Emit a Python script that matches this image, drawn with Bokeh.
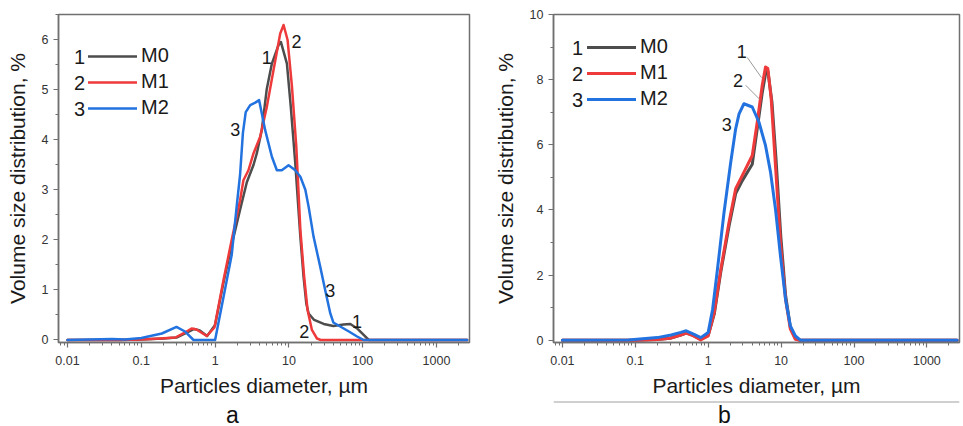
from bokeh.plotting import figure
from bokeh.models import (Range1d, FixedTicker, SingleIntervalTicker, Legend, LegendItem,
                          Label, Arrow, Span)
from bokeh.layouts import row, column
from bokeh.embed import file_html
from bokeh.resources import INLINE

# ---------------- data ----------------
series_names = ["M0", "M1", "M2"]
series_numbers = ["1", "2", "3"]

# Panel a
a_m0_x = [0.01, 0.05, 0.1, 0.2, 0.3, 0.42, 0.52, 0.62, 0.78, 1.0, 1.3, 1.68, 2.18, 2.69, 3.32,
          3.68, 4.3, 5.0, 5.88, 7.24, 7.8, 9.4, 10.6, 12.2, 14.3, 15.8, 17.2, 18.5, 22.0, 29.6,
          40.0, 55.0, 68.0, 84.0, 103.0, 121.0, 2600.0]
a_m0_y = [0.0, 0.0, 0.01, 0.03, 0.05, 0.15, 0.22, 0.19, 0.08, 0.3, 1.15, 1.9, 2.6, 3.15, 3.5,
          3.73, 4.2, 5.0, 5.52, 5.89, 5.95, 5.52, 4.66, 3.53, 2.06, 1.26, 0.73, 0.53, 0.40, 0.32,
          0.28, 0.31, 0.32, 0.23, 0.1, 0.0, 0.0]

a_m1_x = [0.01, 0.05, 0.1, 0.18, 0.29, 0.37, 0.48, 0.56, 0.77, 0.98, 1.3, 1.68, 2.18, 2.42,
          2.83, 3.32, 4.08, 5.03, 6.19, 7.63, 8.47, 9.6, 11.0, 12.6, 14.3, 16.1, 17.9, 20.5,
          24.0, 27.0, 2600.0]
a_m1_y = [0.0, 0.0, 0.01, 0.03, 0.05, 0.13, 0.23, 0.21, 0.08, 0.25, 1.2, 2.0, 2.79, 3.19,
          3.39, 3.73, 4.06, 4.66, 5.39, 6.12, 6.29, 5.99, 5.06, 3.86, 2.2, 1.26, 0.6, 0.2,
          0.03, 0.0, 0.0]

a_m2_x = [0.01, 0.02, 0.04, 0.06, 0.1, 0.19, 0.3, 0.39, 0.51, 1.0, 1.3, 1.68, 1.97, 2.18,
          2.38, 2.6, 2.99, 3.5, 3.95, 4.77, 5.88, 6.87, 8.0, 9.9, 12.2, 14.3, 16.7, 18.5,
          21.6, 26.6, 31.0, 36.4, 40.0, 49.6, 65.0, 84.0, 103.0, 2600.0]
a_m2_y = [0.0, 0.01, 0.02, 0.01, 0.04, 0.13, 0.26, 0.17, 0.0, 0.0, 0.86, 1.7, 2.7, 3.3,
          4.13, 4.55, 4.69, 4.74, 4.79, 4.19, 3.66, 3.39, 3.39, 3.49, 3.39, 3.26, 3.0, 2.66,
          2.06, 1.46, 1.0, 0.53, 0.35, 0.27, 0.17, 0.07, 0.0, 0.0]

# Panel b
b_m0_x = [0.01, 0.1, 0.2, 0.3, 0.42, 0.5, 0.62, 0.79, 1.0, 1.21, 1.49, 1.93, 2.38, 2.94,
          4.02, 4.71, 5.51, 6.2, 6.6, 7.5, 8.5, 9.9, 11.5, 13.4, 15.7, 18.0, 2600.0]
b_m0_y = [0.0, 0.0, 0.02, 0.06, 0.16, 0.22, 0.15, 0.03, 0.15, 0.8, 2.1, 3.5, 4.5, 4.9,
          5.4, 6.5, 7.6, 8.25, 8.25, 7.3, 5.6, 3.2, 1.4, 0.4, 0.05, 0.0, 0.0]

b_m1_x = [0.01, 0.1, 0.2, 0.3, 0.42, 0.5, 0.62, 0.79, 1.0, 1.21, 1.49, 1.93, 2.38, 2.94,
          4.02, 4.71, 5.51, 6.11, 6.58, 7.31, 8.37, 9.8, 11.5, 13.4, 15.7, 18.0, 2600.0]
b_m1_y = [0.0, 0.0, 0.02, 0.06, 0.16, 0.22, 0.14, 0.01, 0.13, 0.85, 2.18, 3.62, 4.65, 5.06,
          5.67, 6.70, 7.83, 8.39, 8.34, 7.42, 5.36, 3.0, 1.26, 0.34, 0.03, 0.0, 0.0]

b_m2_x = [0.01, 0.08, 0.2, 0.31, 0.42, 0.5, 0.64, 0.79, 1.0, 1.15, 1.34, 1.65, 2.04, 2.38,
          2.65, 3.09, 4.02, 4.96, 6.11, 7.16, 8.37, 9.8, 11.5, 13.4, 15.7, 18.4, 2600.0]
b_m2_y = [0.0, 0.01, 0.08, 0.16, 0.24, 0.29, 0.18, 0.08, 0.24, 0.95, 2.18, 3.93, 5.47, 6.49,
          6.95, 7.26, 7.16, 6.70, 5.98, 5.16, 4.03, 2.59, 1.26, 0.44, 0.13, 0.0, 0.0]

x_ticks = [0.01, 0.1, 1, 10, 100, 1000]
x_tick_labels = ["0.01", "0.1", "1", "10", "100", "1000"]

x_title = "Particles diameter, µm"
y_title = "Volume size distribution, %"
panel_letters = ["a", "b"]

# ---------------- styling ----------------
colors = ["#4d4d4d", "#ee3a3a", "#2272e0"]
FONT = "Liberation Sans"
FRAME = "#707070"
TXT = "#1a1a1a"
FIG_H = 400
CAP_H = 26

minor_x = [m * 10.0 ** e for e in range(-3, 4) for m in range(2, 10)]


def make_panel(width, border_left, border_right, y_start, y_end, y_interval, xs, ys, lw,
               leg_x, leg_y, num_x, num_rows):
    p = figure(width=width, height=FIG_H, x_axis_type="log", output_backend="svg",
               toolbar_location=None, min_border_left=border_left, min_border_right=border_right,
               min_border_top=14, min_border_bottom=FIG_H - 342)
    p.x_range = Range1d(0.00755, 2800)
    p.y_range = Range1d(y_start, y_end)
    p.xgrid.visible = False
    p.ygrid.visible = False
    p.outline_line_color = FRAME
    p.outline_line_width = 1.5
    p.background_fill_color = "white"
    p.border_fill_color = "white"

    p.xaxis.ticker = FixedTicker(ticks=x_ticks, minor_ticks=minor_x)
    p.xaxis.major_label_overrides = {t: l for t, l in zip(x_ticks, x_tick_labels)}
    p.yaxis.ticker = SingleIntervalTicker(interval=y_interval, num_minor_ticks=2)
    for ax in (p.xaxis[0], p.yaxis[0]):
        ax.axis_line_color = FRAME
        ax.axis_line_width = 1.5
        ax.major_tick_line_color = FRAME
        ax.minor_tick_line_color = FRAME
        ax.major_tick_line_width = 1.2
        ax.minor_tick_line_width = 1
        ax.major_tick_out = 5
        ax.major_tick_in = 0
        ax.minor_tick_out = 3
        ax.minor_tick_in = 0
        ax.major_label_text_font = FONT
        ax.major_label_text_font_size = "12.5px"
        ax.major_label_text_color = "#333333"
        ax.axis_label_text_font = FONT
        ax.axis_label_text_font_size = "21px"
        ax.axis_label_text_font_style = "normal"
        ax.axis_label_text_color = TXT
    p.xaxis.axis_label = x_title
    p.yaxis.axis_label = y_title
    p.xaxis.major_label_standoff = 8
    p.xaxis.axis_label_standoff = 6
    p.yaxis.major_label_standoff = 5
    p.yaxis.axis_label_standoff = 10

    renderers = []
    for x, y, c in zip(xs, ys, colors):
        r = p.line(x, y, line_color=c, line_width=lw, line_join="round", line_cap="round")
        renderers.append(r)

    items = [LegendItem(label=n, renderers=[r]) for n, r in zip(series_names, renderers)]
    leg = Legend(items=items, location=(leg_x, leg_y), padding=0, margin=0,
                 border_line_color=None, background_fill_alpha=0,
                 glyph_width=49, glyph_height=20, label_height=20, spacing=3,
                 label_standoff=4, label_text_font=FONT, label_text_font_size="20px",
                 label_text_color=TXT)
    p.add_layout(leg, "center")
    for num, ry in zip(series_numbers, num_rows):
        p.add_layout(Label(x=num_x, y=ry, x_units="screen", y_units="screen", text=num,
                           text_align="center", text_baseline="middle", text_font=FONT,
                           text_font_size="20px", text_color=TXT))
    return p


def curve_label(p, x, y, text, size="18px"):
    p.add_layout(Label(x=x, y=y, text=text, text_align="center", text_baseline="middle",
                       text_font=FONT, text_font_size=size, text_color=TXT))


def caption(text, width, border_left, border_right, cx, rule):
    c = figure(width=width, height=CAP_H, output_backend="svg", toolbar_location=None,
               x_axis_location=None, y_axis_location=None,
               min_border_left=border_left, min_border_right=border_right,
               min_border_top=0, min_border_bottom=0,
               x_range=Range1d(0, 1), y_range=Range1d(0, 1))
    c.grid.visible = False
    c.outline_line_color = None
    c.background_fill_color = "white"
    c.border_fill_color = "white"
    c.add_layout(Label(x=cx, y=12, x_units="screen", y_units="screen", text=text,
                       text_align="center", text_baseline="middle", text_font=FONT,
                       text_font_size="23px", text_color="#111111"))
    if rule:
        c.add_layout(Span(location=CAP_H - 1.5, location_units="screen", dimension="width",
                          line_color="#a0a0a0", line_width=1))
    return c


pa = make_panel(490, 58, 21, -0.05, 6.5, 1, [a_m0_x, a_m1_x, a_m2_x], [a_m0_y, a_m1_y, a_m2_y],
                2.5, 30, 223, 21, [286, 260, 234])
curve_label(pa, 5.03, 5.64, "1")
curve_label(pa, 12.7, 5.97, "2")
curve_label(pa, 1.87, 4.20, "3")
curve_label(pa, 36.4, 0.98, "3")
curve_label(pa, 16.1, 0.17, "2")
curve_label(pa, 83.8, 0.37, "1")

pb = make_panel(473, 63, 4, -0.07, 10, 2, [b_m0_x, b_m1_x, b_m2_x], [b_m0_y, b_m1_y, b_m2_y],
                3, 34, 232, 24, [295, 269, 243])
curve_label(pb, 2.88, 8.85, "1")
curve_label(pb, 2.57, 7.98, "2")
curve_label(pb, 1.80, 6.63, "3")
pb.add_layout(Arrow(end=None, x_start=3.44, y_start=8.68, x_end=5.39, y_end=8.06,
                    line_color="#9a9a9a", line_width=1))
pb.add_layout(Arrow(end=None, x_start=3.26, y_start=7.83, x_end=5.12, y_end=7.39,
                    line_color="#9a9a9a", line_width=1))

ca = caption(panel_letters[0], 490, 58, 21, 174, False)
cb = caption(panel_letters[1], 473, 63, 4, 171, True)

layout = row(column(pa, ca, spacing=0), column(pb, cb, spacing=0), spacing=0)
open("out.html", "w").write(file_html(layout, INLINE))
